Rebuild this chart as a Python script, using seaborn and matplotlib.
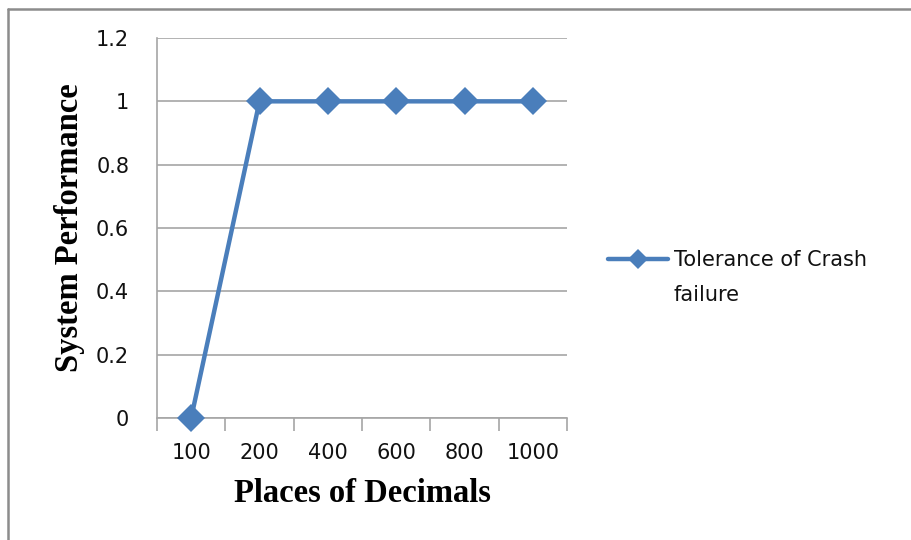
import numpy as np
import pandas as pd
import seaborn as sns
import matplotlib
matplotlib.use("Agg")
import matplotlib.pyplot as plt
from matplotlib.lines import Line2D
from matplotlib.ticker import FixedLocator

categories = ["100", "200", "400", "600", "800", "1000"]
performance = [0, 1, 1, 1, 1, 1]
series_lines = ["Tolerance of Crash", "failure"]
y_ticks = [0, 0.2, 0.4, 0.6, 0.8, 1.0, 1.2]
y_tick_labels = ["0", "0.2", "0.4", "0.6", "0.8", "1", "1.2"]

sns.set_theme(style="white")
plt.rcParams["font.family"] = ["DejaVu Sans"]

df = pd.DataFrame({"pos": np.arange(len(categories)), "value": performance})

fig = plt.figure(figsize=(9.12, 5.4), dpi=100)
ax = fig.add_axes([157 / 912, 1 - 418 / 540, (567 - 157) / 912, (418 - 38) / 540])

blue = "#4a7ebb"
sns.lineplot(data=df, x="pos", y="value", ax=ax, color=blue, linewidth=3.2,
             marker="D", markersize=14, markeredgewidth=0, legend=False,
             clip_on=False, zorder=5)

ax.set_xlim(-0.5, len(categories) - 0.5)
ax.set_ylim(0, 1.2)
ax.set_yticks(y_ticks)
ax.set_yticklabels(y_tick_labels)
ax.set_xticks(np.arange(len(categories)))
ax.set_xticklabels(categories)
ax.xaxis.set_minor_locator(FixedLocator(np.arange(len(categories) + 1) - 0.5))

grid_c = "#a6a6a6"
ax.yaxis.grid(True, color=grid_c, linewidth=1.2)
ax.xaxis.grid(False)
for s in ["top", "right"]:
    ax.spines[s].set_visible(False)
for s in ["left", "bottom"]:
    ax.spines[s].set_color(grid_c)
    ax.spines[s].set_linewidth(1.2)
ax.set_axisbelow(True)

tick_c = "#111111"
ax.tick_params(axis="y", which="major", length=9, width=1.2, color=grid_c,
               direction="out", pad=11, labelsize=15, labelcolor=tick_c)
ax.tick_params(axis="x", which="major", length=0, pad=18, labelsize=15,
               labelcolor=tick_c)
ax.tick_params(axis="x", which="minor", length=9, width=1.2, color=grid_c,
               direction="out", bottom=True)

label_font = dict(family=["Liberation Serif", "DejaVu Serif"], weight="bold",
                  size=23.5, color="black")
ax.set_xlabel("Places of Decimals", labelpad=11, **label_font)
ax.set_ylabel("System Performance", labelpad=8, **label_font)

# Legend: marker line on the first text line, continuation line below it
handle = Line2D([], [], color=blue, linewidth=3.2, marker="D", markersize=10,
                markeredgewidth=0)
blank = Line2D([], [], linestyle="none", marker=None)
leg = ax.legend([handle, blank], series_lines, loc="upper left",
                bbox_to_anchor=(608 / 912, 1 - 250 / 540),
                bbox_transform=fig.transFigure, frameon=False, fontsize=15,
                handlelength=2.9, handletextpad=0.25, borderaxespad=0,
                borderpad=0, labelspacing=0.72)
for t in leg.get_texts():
    t.set_color(tick_c)

# Outer frame lines along the top and left edges
frame_c = "#8c8c8c"
fig.add_artist(Line2D([8 / 912, 1], [1 - 9 / 540, 1 - 9 / 540],
                      transform=fig.transFigure, color=frame_c, linewidth=1.8))
fig.add_artist(Line2D([8 / 912, 8 / 912], [0, 1 - 9 / 540],
                      transform=fig.transFigure, color=frame_c, linewidth=1.8))

fig.savefig("out.png", dpi=100)
